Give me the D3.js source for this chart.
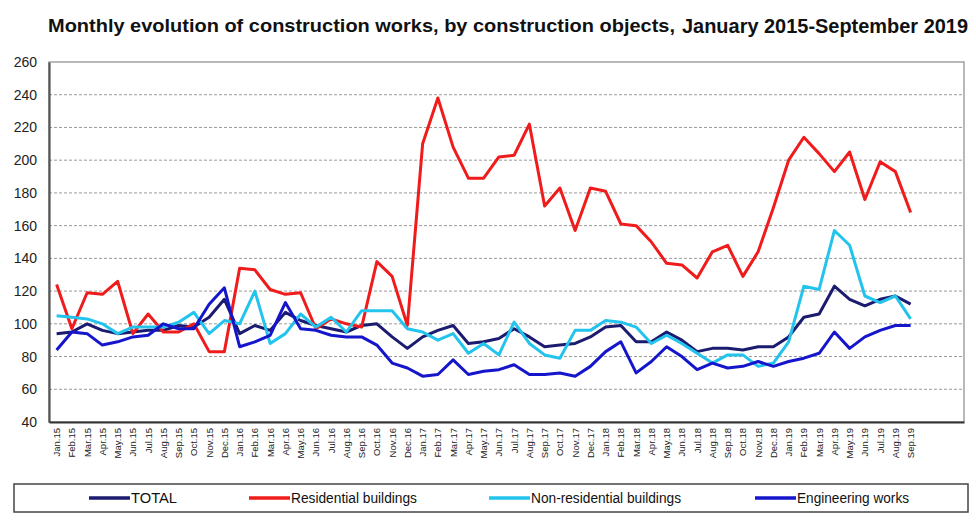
<!DOCTYPE html>
<html>
<head>
<meta charset="utf-8">
<script src="https://cdn.jsdelivr.net/npm/d3@7"></script>
<style>
  body { margin: 0; background: #fff; }
  svg { display: block; font-family: "Liberation Sans", Arial, sans-serif; }
</style>
</head>
<body>
<div id="chart"></div>
<script>
var months = ["Jan.15","Feb.15","Mar.15","Apr.15","May.15","Jun.15","Jul.15","Aug.15","Sep.15","Oct.15","Nov.15","Dec.15",
  "Jan.16","Feb.16","Mar.16","Apr.16","May.16","Jun.16","Jul.16","Aug.16","Sep.16","Oct.16","Nov.16","Dec.16",
  "Jan.17","Feb.17","Mar.17","Apr.17","May.17","Jun.17","Jul.17","Aug.17","Sep.17","Oct.17","Nov.17","Dec.17",
  "Jan.18","Feb.18","Mar.18","Apr.18","May.18","Jun.18","Jul.18","Aug.18","Sep.18","Oct.18","Nov.18","Dec.18",
  "Jan.19","Feb.19","Mar.19","Apr.19","May.19","Jun.19","Jul.19","Aug.19","Sep.19"];

var total = [94,95,100,96,94,95,96,96,99,98,104,115,
  94,99,96,107,102,99,97,95,99,100,92,85,
  92,96,99,88,89,91,97,92,86,87,88,92,
  98,99,89,89,95,90,83,85,85,84,86,86,
  92,104,106,123,115,111,115,117,112];

var residential = [124,97,119,118,126,94,106,95,95,100,83,83,
  134,133,121,118,119,97,103,100,98,138,129,99,
  210,238,208,189,189,202,203,222,172,183,157,183,
  181,161,160,150,137,136,128,144,148,129,144,171,
  200,214,204,193,205,176,199,193,168];

var nonResidential = [105,104,103,100,94,98,98,98,101,107,94,102,
  100,120,88,94,106,98,104,95,108,108,108,97,
  95,90,94,82,88,81,101,88,81,79,96,96,
  102,101,98,88,93,88,82,76,81,81,74,76,
  89,123,121,157,148,117,113,117,103];

var engineering = [84,95,94,87,89,92,93,100,97,97,112,122,
  86,89,93,113,97,96,93,92,92,87,76,73,
  68,69,78,69,71,72,75,69,69,70,68,74,
  83,89,70,77,86,80,72,76,73,74,77,74,
  77,79,82,95,85,92,96,99,99];

var yTicks = [40,60,80,100,120,140,160,180,200,220,240,260];

var series = [
  { name: "TOTAL", values: total, color: "#1b1b6f" },
  { name: "Residential buildings", values: residential, color: "#f01c1c" },
  { name: "Non-residential buildings", values: nonResidential, color: "#22c4ee" },
  { name: "Engineering works", values: engineering, color: "#1515cc" }
];

var width = 976, height = 520;
var plot = { left: 49, right: 964, top: 62, bottom: 422 };

var svg = d3.select("#chart").append("svg")
  .attr("width", width)
  .attr("height", height);

// title, two parts like the original
svg.append("text")
  .attr("x", 48)
  .attr("y", 32)
  .attr("textLength", 627)
  .attr("lengthAdjust", "spacingAndGlyphs")
  .style("font-weight", "bold")
  .style("font-size", "19px")
  .attr("fill", "#111")
  .text("Monthly evolution of construction works, by construction objects,");

svg.append("text")
  .attr("x", 682)
  .attr("y", 33)
  .attr("textLength", 286)
  .attr("lengthAdjust", "spacingAndGlyphs")
  .style("font-weight", "bold")
  .style("font-size", "19.5px")
  .attr("fill", "#111")
  .text("January 2015-September 2019");

// 60 slots, data fills the first 57
var xScale = d3.scaleBand()
  .domain(d3.range(60))
  .range([plot.left, plot.right]);

var yScale = d3.scaleLinear()
  .domain([40, 260])
  .range([plot.bottom, plot.top]);

function cx(i) { return xScale(i) + xScale.bandwidth() / 2; }

// gridlines
svg.append("g")
  .selectAll("line")
  .data(yTicks.filter(function(d) { return d > 40 && d < 260; }))
  .enter().append("line")
  .attr("x1", plot.left)
  .attr("x2", plot.right)
  .attr("y1", function(d) { return yScale(d); })
  .attr("y2", function(d) { return yScale(d); })
  .attr("stroke", "#9a9a9a")
  .attr("stroke-width", 1)
  .attr("stroke-dasharray", "3,2");

// frame top/right
svg.append("rect")
  .attr("x", plot.left)
  .attr("y", plot.top)
  .attr("width", plot.right - plot.left)
  .attr("height", plot.bottom - plot.top)
  .attr("fill", "none")
  .attr("stroke", "#8a8a8a")
  .attr("stroke-width", 1.2);

// y axis
var yAxis = d3.axisLeft(yScale).tickValues(yTicks).tickSize(0).tickPadding(12);
var yg = svg.append("g")
  .attr("transform", "translate(" + plot.left + ",0)")
  .call(yAxis);
yg.select(".domain").attr("stroke", "#555").attr("stroke-width", 2.2);
yg.selectAll("text")
  .style("font-size", "14px")
  .attr("fill", "#222");

// x axis
var xAxis = d3.axisBottom(xScale)
  .tickValues(d3.range(months.length))
  .tickFormat(function(i) { return months[i]; })
  .tickSize(0);
var xg = svg.append("g")
  .attr("transform", "translate(0," + plot.bottom + ")")
  .call(xAxis);
xg.select(".domain").attr("stroke", "#333").attr("stroke-width", 2.2);
xg.selectAll("text")
  .style("font-size", "9.5px")
  .attr("fill", "#222")
  .attr("text-anchor", "end")
  .attr("dy", null)
  .attr("y", 0)
  .attr("transform", "translate(3.5,6) rotate(-90)");

// lines
var line = d3.line()
  .x(function(d, i) { return cx(i); })
  .y(function(d) { return yScale(d); });

svg.append("g")
  .selectAll("path")
  .data(series)
  .enter().append("path")
  .attr("d", function(d) { return line(d.values); })
  .attr("fill", "none")
  .attr("stroke", function(d) { return d.color; })
  .attr("stroke-width", 3)
  .attr("stroke-linejoin", "round");

// legend
svg.append("rect")
  .attr("x", 14)
  .attr("y", 484)
  .attr("width", 954)
  .attr("height", 28)
  .attr("fill", "none")
  .attr("stroke", "#444")
  .attr("stroke-width", 1.5);

var legendX = [89, 249, 489, 755];
var legendTextW = [46, 126, 150, 112];
var legend = svg.append("g")
  .selectAll("g")
  .data(series)
  .enter().append("g")
  .attr("transform", function(d, i) { return "translate(" + legendX[i] + ",498)"; });

legend.append("line")
  .attr("x1", 0)
  .attr("x2", 41)
  .attr("stroke", function(d) { return d.color; })
  .attr("stroke-width", 3.5);

legend.append("text")
  .attr("x", 42)
  .attr("dy", "0.36em")
  .attr("textLength", function(d, i) { return legendTextW[i]; })
  .attr("lengthAdjust", "spacingAndGlyphs")
  .style("font-size", "14px")
  .attr("fill", "#111")
  .text(function(d) { return d.name; });
</script>
</body>
</html>
